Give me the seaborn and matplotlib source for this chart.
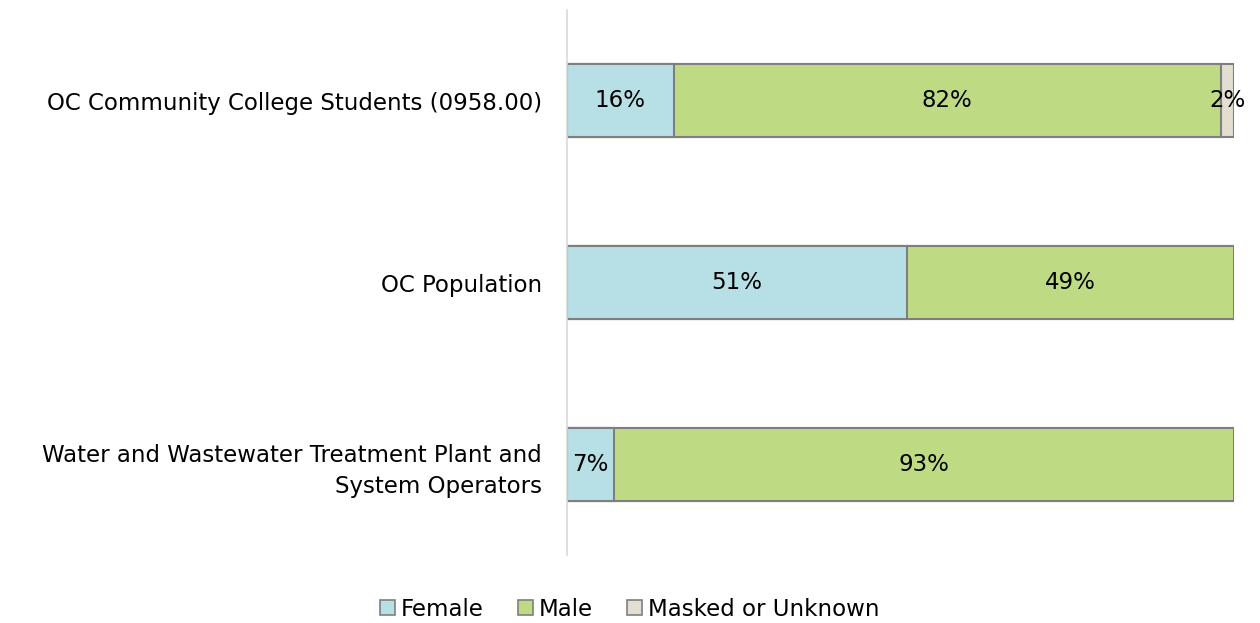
import matplotlib
matplotlib.use("Agg")
import matplotlib.pyplot as plt
import pandas as pd
import seaborn as sns
from matplotlib.patches import Patch

categories = ["OC Community College Students (0958.00)",
              "OC Population",
              "Water and Wastewater Treatment Plant and\nSystem Operators"]
female = [16, 51, 7]
male = [82, 49, 93]
masked = [2, 0, 0]

series = ["Female", "Male", "Masked or Unknown"]
colors = ["#B7E0E6", "#BEDB84", "#E3DED1"]
edge = "#7F7F7F"

sns.set_theme(style="white")
plt.rcParams["font.family"] = ["DejaVu Sans"]
plt.rcParams["text.color"] = "black"
plt.rcParams["ytick.color"] = "black"

df = pd.DataFrame({"cat": categories, "Female": female, "Male": male,
                   "Masked or Unknown": masked})
df["c1"] = df["Female"]
df["c2"] = df["Female"] + df["Male"]
df["c3"] = df["c2"] + df["Masked or Unknown"]

fig = plt.figure(figsize=(12.6, 6.23), dpi=100)
ax = fig.add_axes([0.45, 0.109, 0.5294, 0.875])

# stacked bars: draw cumulative totals back to front
for col, color in zip(["c3", "c2", "c1"], colors[::-1]):
    sns.barplot(data=df, x=col, y="cat", orient="h", color=color,
                edgecolor=edge, linewidth=1.5, width=0.4, ax=ax,
                saturation=1, order=categories)

for i, row in df.iterrows():
    start = 0
    for s in series:
        v = row[s]
        if v > 0:
            ax.text(start + v / 2, i, f"{v}%", ha="center", va="center",
                    fontsize=16.5, color="black")
        start += v

ax.set_xlim(0, 100)
ax.set_ylim(2.5, -0.5)
ax.set_xlabel("")
ax.set_ylabel("")
ax.set_xticks([])
ax.tick_params(axis="y", length=0, pad=18, labelsize=16.5)
for lbl in ax.get_yticklabels():
    lbl.set_horizontalalignment("right")
    lbl.set_multialignment("right")
    lbl.set_linespacing(1.45)
for side in ["top", "right", "bottom"]:
    ax.spines[side].set_visible(False)
ax.spines["left"].set_color("#D9D9D9")
ax.spines["left"].set_linewidth(1.2)

handles = [Patch(facecolor=c, edgecolor=edge, linewidth=1.2) for c in colors]
fig.legend(handles, series, loc="center", bbox_to_anchor=(0.5, 0.022),
           ncol=3, frameon=False, fontsize=16.5, handlelength=0.65,
           handleheight=0.65, handletextpad=0.25, columnspacing=1.5)

fig.savefig("out.png", dpi=100)
